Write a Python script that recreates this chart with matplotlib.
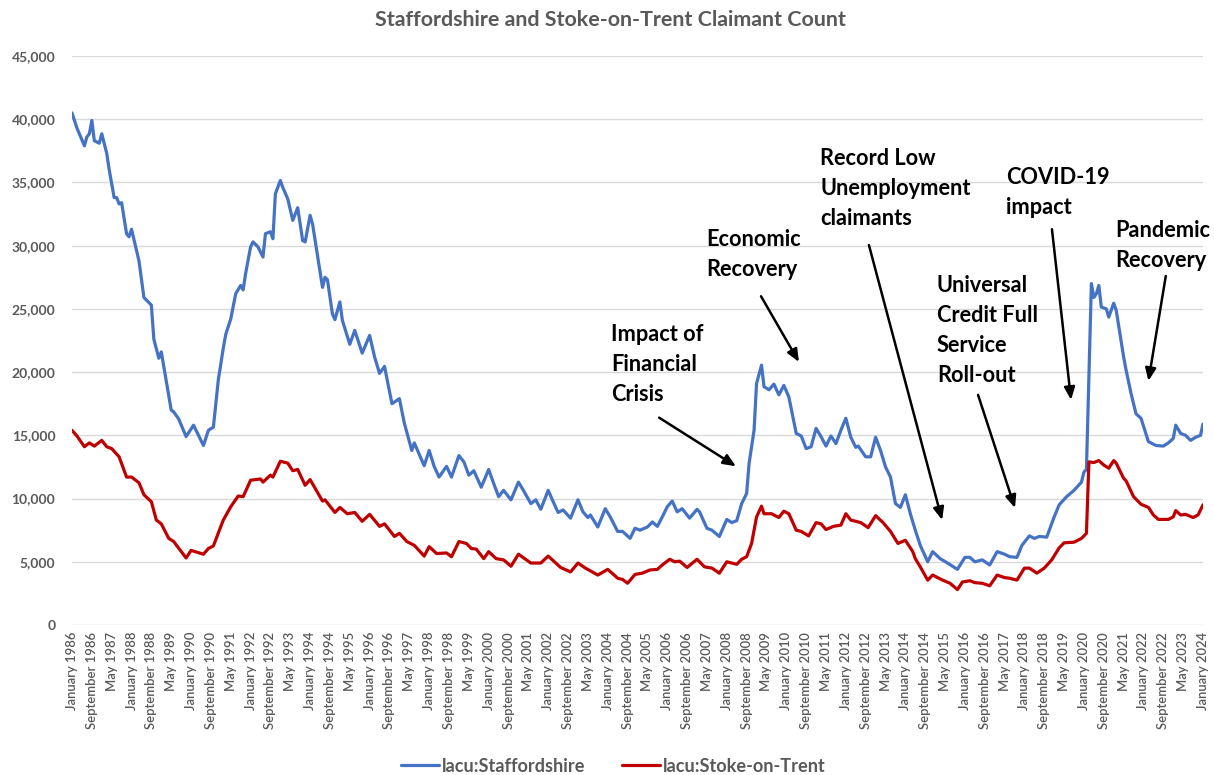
import matplotlib
matplotlib.use("Agg")
import matplotlib.pyplot as plt
import pandas as pd

plt.rcParams["font.family"] = ["Lato", "DejaVu Sans"]

# Monthly categories, January 1986 to January 2024
months = pd.date_range("1986-01-01", "2024-01-01", freq="MS")
month_labels = [d.strftime("%B %Y") for d in months]

# Claimant counts (month offset from January 1986, claimants)
staffs_month = [
    0, 2, 5, 6, 7, 8, 9, 11, 12, 14, 15, 17, 18, 19, 20, 22, 23, 24, 27, 29,
    31, 32, 33, 35, 36, 40, 41, 43, 46, 49, 53, 55, 57, 59, 61, 62, 64, 66, 68, 69,
    70, 72, 73, 75, 77, 78, 80, 81, 82, 84, 85, 87, 89, 91, 93, 94, 96, 97, 101, 102,
    103, 105, 106, 108, 109, 112, 114, 117, 120, 122, 124, 126, 129, 132, 134, 137, 138, 142, 144, 146,
    148, 151, 153, 156, 158, 160, 162, 165, 168, 170, 172, 174, 177, 180, 182, 185, 187, 189, 192, 194,
    196, 198, 201, 204, 206, 208, 209, 212, 215, 217, 220, 222, 225, 227, 229, 232, 234, 236, 238, 240,
    242, 244, 246, 249, 252, 253, 256, 258, 261, 264, 266, 268, 270, 272, 273, 275, 276, 278, 279, 281,
    283, 285, 287, 289, 292, 294, 296, 298, 300, 302, 304, 306, 308, 310, 312, 314, 316, 317, 320, 322,
    324, 326, 328, 330, 332, 334, 336, 338, 340, 342, 345, 347, 350, 353, 355, 357, 360, 362, 364, 367,
    370, 373, 376, 378, 381, 383, 386, 388, 390, 393, 396, 398, 401, 404, 407, 408, 409, 410, 411, 412,
    413, 414, 415, 417, 418, 420, 421, 424, 425, 427, 429, 431, 434, 437, 440, 442, 444, 445, 447, 449,
    451, 453, 455, 456,
]
staffs_count = [
    40500, 39300, 37900, 38600, 38850, 39900, 38300, 38100, 38850, 37300, 36000, 33800, 33800, 33300, 33400, 30950, 30700, 31300, 28800, 25900,
    25500, 25300, 22600, 21100, 21600, 17000, 16850, 16300, 14900, 15800, 14200, 15400, 15650, 19400, 21900, 23000, 24200, 26200, 26850, 26500,
    27800, 29900, 30300, 29900, 29100, 30950, 31100, 30550, 34100, 35150, 34600, 33700, 32000, 33000, 30400, 30300, 32400, 31700, 26700, 27500,
    27300, 24600, 24150, 25550, 24100, 22200, 23300, 21500, 22900, 21200, 19900, 20450, 17500, 17900, 15950, 13800, 14400, 12600, 13800, 12550,
    11700, 12550, 11700, 13400, 12900, 11850, 12200, 10900, 12300, 11200, 10150, 10650, 9900, 11300, 10650, 9600, 9900, 9150, 10650, 9750,
    8900, 9100, 8450, 9900, 8950, 8500, 8700, 7750, 9200, 8550, 7400, 7400, 6850, 7650, 7500, 7750, 8150, 7800, 8550, 9350,
    9800, 8950, 9200, 8450, 9150, 8950, 7650, 7500, 7000, 8350, 8100, 8250, 9600, 10400, 12800, 15400, 19100, 20550, 18850, 18600,
    19050, 18200, 18950, 18050, 15150, 14950, 13950, 14100, 15550, 14900, 14150, 14950, 14350, 15400, 16350, 14850, 14050, 14150, 13300, 13300,
    14850, 13800, 12500, 11700, 9600, 9300, 10300, 8800, 7500, 6300, 5000, 5800, 5250, 4900, 4650, 4400, 5350, 5350, 5000, 5150,
    4750, 5800, 5600, 5400, 5350, 6300, 7050, 6850, 7000, 6950, 8550, 9500, 10150, 10650, 11300, 12100, 12300, 19500, 27000, 25900,
    26200, 26850, 25150, 25000, 24350, 25450, 24900, 21200, 20150, 18300, 16700, 16350, 14500, 14200, 14150, 14400, 14750, 15800, 15150, 15000,
    14600, 14850, 15000, 15900,
]

stoke_month = [
    0, 2, 5, 7, 9, 12, 14, 16, 19, 22, 24, 27, 29, 32, 34, 36, 39, 41, 46, 48,
    53, 55, 57, 61, 64, 67, 69, 72, 76, 77, 80, 81, 84, 87, 89, 91, 94, 96, 101, 102,
    106, 108, 111, 114, 117, 120, 124, 126, 130, 132, 135, 138, 142, 144, 147, 151, 153, 156, 159, 161,
    163, 166, 168, 171, 174, 177, 180, 185, 189, 192, 197, 201, 204, 207, 212, 216, 220, 222, 224, 227,
    230, 233, 236, 238, 241, 243, 245, 248, 252, 255, 258, 261, 264, 268, 270, 272, 274, 276, 278, 279,
    282, 285, 287, 289, 292, 294, 297, 300, 302, 304, 307, 310, 312, 314, 318, 321, 324, 327, 330, 333,
    336, 339, 340, 342, 345, 347, 351, 354, 357, 359, 362, 364, 367, 370, 373, 376, 378, 381, 384, 386,
    389, 392, 395, 398, 400, 404, 407, 409, 410, 412, 414, 416, 418, 420, 421, 424, 425, 428, 431, 434,
    436, 438, 442, 444, 445, 447, 449, 452, 454, 456,
]
stoke_count = [
    15400, 14950, 14100, 14400, 14150, 14600, 14100, 13950, 13300, 11700, 11700, 11250, 10300, 9750, 8300, 8000, 6850, 6600, 5300, 5900,
    5600, 6050, 6250, 8300, 9350, 10200, 10150, 11450, 11550, 11300, 11850, 11700, 12950, 12800, 12200, 12300, 11050, 11500, 9800, 9900,
    8900, 9300, 8800, 8900, 8200, 8750, 7800, 8000, 7000, 7250, 6600, 6300, 5450, 6200, 5650, 5700, 5400, 6600, 6450, 6050,
    6000, 5250, 5800, 5250, 5150, 4650, 5600, 4900, 4900, 5450, 4550, 4200, 4900, 4500, 3950, 4400, 3700, 3600, 3300, 4000,
    4100, 4350, 4400, 4750, 5200, 5000, 5050, 4550, 5200, 4600, 4500, 4100, 5000, 4800, 5200, 5400, 6450, 8550, 9400, 8800,
    8800, 8500, 9000, 8800, 7500, 7400, 7050, 8100, 8000, 7550, 7800, 7900, 8800, 8300, 8100, 7700, 8650, 8100, 7400, 6450,
    6700, 5800, 5250, 4600, 3550, 3950, 3550, 3300, 2800, 3400, 3500, 3350, 3300, 3100, 3950, 3750, 3700, 3550, 4500, 4500,
    4100, 4500, 5150, 6100, 6500, 6550, 6850, 7250, 12900, 12850, 13000, 12650, 12400, 13000, 12800, 11600, 11400, 10150, 9550, 9300,
    8700, 8350, 8350, 8550, 9050, 8700, 8750, 8500, 8700, 9500,
]

series_names = ["lacu:Staffordshire", "lacu:Stoke-on-Trent"]
series_colors = ["#4472C4", "#C00000"]

y_ticks = list(range(0, 45001, 5000))

# Event annotations: text, text anchor (month, value), arrow tail, arrow head
events = [
    ("Impact of\nFinancial\nCrisis", (217.5, 23800), (236.7, 16400), (267.7, 12550)),
    ("Economic\nRecovery", (255.6, 31350), (277.8, 26000), (293.1, 20800)),
    ("Record Low\nUnemployment\nclaimants", (301.6, 37750), (321.3, 30050), (350.8, 8300)),
    ("COVID-19\nimpact", (376.6, 36250), (395.1, 31300), (402.8, 17800)),
    ("Pandemic\nRecovery", (420.5, 32050), (441.0, 27600), (434.0, 19300)),
    ("Universal\nCredit Full\nService\nRoll-out", (348.7, 27650), (365.3, 18200), (380.2, 9250)),
]

fig = plt.figure(figsize=(12.14, 7.75), dpi=100)
ax = fig.add_axes([72 / 1214, 150 / 775, 1131 / 1214, 569 / 775])

ax.plot(staffs_month, staffs_count, color=series_colors[0], lw=2.3,
        solid_joinstyle="round", solid_capstyle="round", label=series_names[0], zorder=3)
ax.plot(stoke_month, stoke_count, color=series_colors[1], lw=2.3,
        solid_joinstyle="round", solid_capstyle="round", label=series_names[1], zorder=3)

ax.set_xlim(0, len(months) - 1)
ax.set_ylim(0, 45000)
ax.set_yticks(y_ticks)
ax.set_yticklabels([f"{v:,}" for v in y_ticks], fontsize=10, fontweight="bold", color="#595959")
tick_pos = list(range(0, len(months), 8))
ax.set_xticks(tick_pos)
ax.set_xticklabels([month_labels[i] for i in tick_pos], rotation=90, fontsize=9.4,
                   fontweight="semibold", color="#595959", va="top", ha="center")
ax.tick_params(axis="y", length=0, pad=12)
ax.tick_params(axis="x", length=0, pad=5)
ax.grid(axis="y", color="#D9D9D9", lw=1.0)
ax.set_axisbelow(True)
for s in ax.spines.values():
    s.set_visible(False)

for text, pos, tail, head in events:
    ax.text(pos[0], pos[1], text, fontsize=15.7, fontweight="bold", color="black",
            ha="left", va="top", linespacing=1.53, zorder=4)
    ax.annotate("", xy=head, xytext=tail,
                arrowprops=dict(arrowstyle="-|>,head_length=0.75,head_width=0.32",
                                color="black", lw=1.8, shrinkA=0, shrinkB=0), zorder=4)

fig.text(0.5025, 1 - 20 / 775, "Staffordshire and Stoke-on-Trent Claimant Count",
         ha="center", va="center", fontsize=15.4, fontweight="bold", color="#595959")

leg = fig.legend(loc="center", bbox_to_anchor=(0.505, 1 - 766 / 775), ncol=2, frameon=False,
                 prop={"size": 13.1, "weight": "bold"}, handlelength=2.1, columnspacing=2.0,
                 handletextpad=0.15)
for t in leg.get_texts():
    t.set_color("#595959")

fig.savefig("out.png", dpi=100)
